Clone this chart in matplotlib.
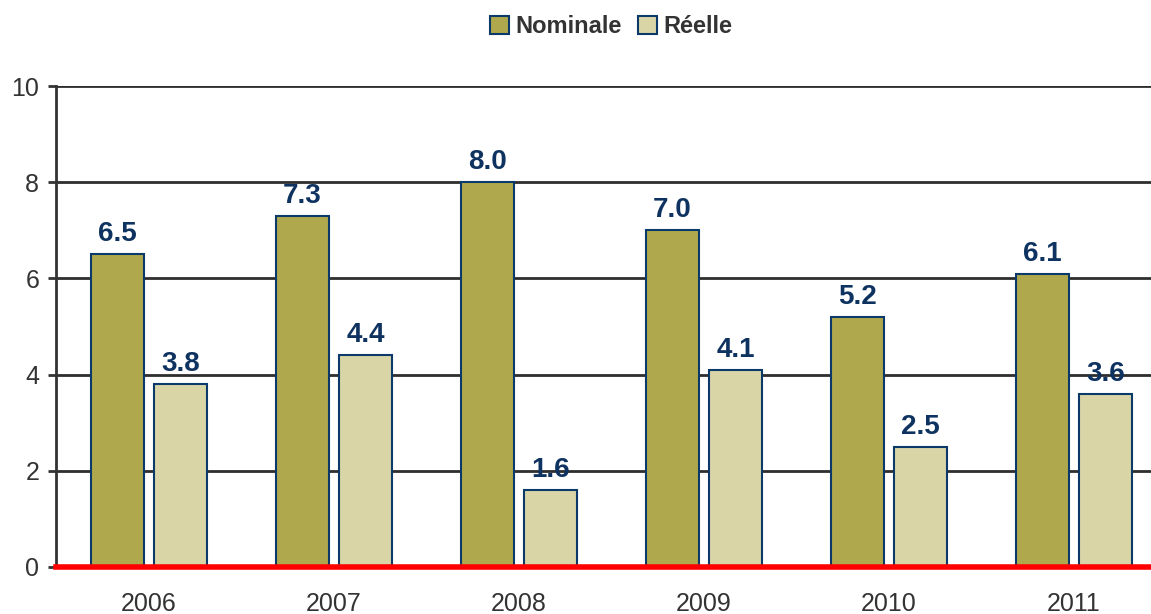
import numpy as np
import matplotlib.pyplot as plt

plt.rcParams['font.family'] = ['Liberation Sans', 'DejaVu Sans']

years = ['2006', '2007', '2008', '2009', '2010', '2011']
nominale = [6.5, 7.3, 8.0, 7.0, 5.2, 6.1]
reelle = [3.8, 4.4, 1.6, 4.1, 2.5, 3.6]

fig = plt.figure(figsize=(11.51, 6.14), dpi=100)
ax = fig.add_axes([56 / 1151, 47 / 614, 1 - 56 / 1151, (567 - 86) / 614])

x = np.arange(len(years))
w = 0.286
edge = '#0B3A6A'
b1 = ax.bar(x - 0.17, nominale, w, color='#B0A84C', edgecolor=edge, linewidth=1.5,
            label='Nominale', zorder=3)
b2 = ax.bar(x + 0.175, reelle, w, color='#D9D5A7', edgecolor=edge, linewidth=1.5,
            label='Réelle', zorder=3)

for bars in (b1, b2):
    for r in bars:
        ax.annotate(f'{r.get_height():.1f}', (r.get_x() + r.get_width() / 2, r.get_height()),
                    xytext=(0, 5), textcoords='offset points', ha='center', va='bottom',
                    fontsize=20, fontweight='bold', color='#0F3360', zorder=4)

ax.set_ylim(0, 10)
ax.set_xlim(-0.5, -0.5 + (1151 - 56) / 185)
ax.set_yticks(range(0, 11, 2))
ax.set_xticks(x)
ax.set_xticklabels(years)
ax.yaxis.grid(True, color='#2E2E2E', linewidth=2, zorder=0)
ax.axhline(0, color='#FF0000', linewidth=4, zorder=5, clip_on=False)
for s in ['top', 'right', 'bottom']:
    ax.spines[s].set_visible(False)
ax.spines['left'].set_color('#333333')
ax.spines['left'].set_linewidth(2)
ax.tick_params(axis='y', colors='#333333', labelsize=18, length=6, width=2, pad=6)
ax.tick_params(axis='x', colors='#333333', labelsize=18, length=0, pad=18)

leg = fig.legend(loc='upper center', bbox_to_anchor=(0.531, 1.01), ncol=2, frameon=False,
                 prop={'weight': 'bold', 'size': 17}, handlelength=0.8, handleheight=0.8,
                 handletextpad=0.25, columnspacing=0.7)
for t in leg.get_texts():
    t.set_color('#333333')

fig.savefig('out.png', dpi=100)
